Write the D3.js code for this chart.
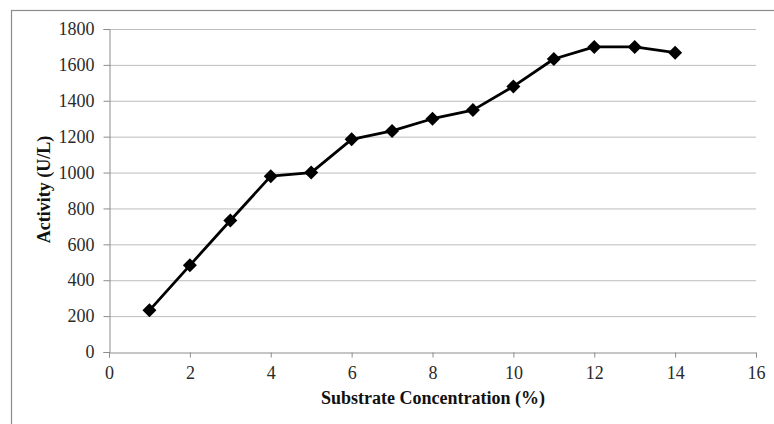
<!DOCTYPE html>
<html>
<head>
<meta charset="utf-8">
<script src="https://cdn.jsdelivr.net/npm/d3@7"></script>
<style>
  body { margin: 0; background: #fff; }
  svg { display: block; }
  .tick text { font-size: 18px; fill: #2a2a2a; }
  .axis-title { font-size: 18px; font-weight: bold; fill: #111; }
</style>
</head>
<body>
<script>
// substrate concentration (%) and measured activity (U/L)
const concentration = [1, 2, 3, 4, 5, 6, 7, 8, 9, 10, 11, 12, 13, 14];
const activity = [232, 483, 733, 980, 1000, 1185, 1232, 1300, 1348, 1480, 1633, 1700, 1700, 1668];
const xTicks = [0, 2, 4, 6, 8, 10, 12, 14, 16];
const yTicks = [0, 200, 400, 600, 800, 1000, 1200, 1400, 1600, 1800];

const width = 774, height = 424;
const margin = {top: 29, right: 18, bottom: 72, left: 109};
const serif = "'Liberation Serif', 'Times New Roman', Times, serif";

const svg = d3.select(document.body).append('svg')
  .attr('width', width)
  .attr('height', height)
  .attr('font-family', serif);

// chart border
svg.append('rect')
  .attr('x', 11.5).attr('y', 10.5)
  .attr('width', width).attr('height', height)
  .attr('fill', 'none')
  .attr('stroke', '#8c8c8c')
  .attr('stroke-width', 1.2);

const x = d3.scaleLinear().domain([0, 16]).range([margin.left, width - margin.right]);
const y = d3.scaleLinear().domain([0, 1800]).range([height - margin.bottom, margin.top]);

// gridlines
svg.append('g')
  .selectAll('line')
  .data(yTicks.slice(1))
  .enter().append('line')
  .attr('x1', x(0)).attr('x2', x(16))
  .attr('y1', d => y(d) + 0.5).attr('y2', d => y(d) + 0.5)
  .attr('stroke', '#bdbdbd')
  .attr('stroke-width', 1);

const yAxis = svg.append('g')
  .attr('transform', `translate(${x(0) + 0.5},0)`)
  .call(d3.axisLeft(y).tickValues(yTicks).tickSize(6).tickPadding(9).tickFormat(d3.format('d')));

const xAxis = svg.append('g')
  .attr('transform', `translate(0,${y(0) + 0.5})`)
  .call(d3.axisBottom(x).tickValues(xTicks).tickSize(5).tickPadding(9));

[yAxis, xAxis].forEach(a => {
  a.attr('font-family', serif).attr('font-size', null);
  a.select('.domain').attr('stroke', '#8c8c8c');
  a.selectAll('.tick line').attr('stroke', '#8c8c8c');
  a.selectAll('.tick text').attr('font-family', serif);
});

// line
const pts = concentration.map((c, i) => [c, activity[i]]);
svg.append('path')
  .datum(pts)
  .attr('fill', 'none')
  .attr('stroke', '#000')
  .attr('stroke-width', 2.8)
  .attr('stroke-linejoin', 'round')
  .attr('d', d3.line().x(d => x(d[0])).y(d => y(d[1])));

// diamond markers
svg.append('g')
  .selectAll('path')
  .data(pts)
  .enter().append('path')
  .attr('transform', d => `translate(${x(d[0])},${y(d[1])})`)
  .attr('d', 'M0,-7L7,0L0,7L-7,0Z')
  .attr('fill', '#000');

// axis titles
svg.append('text')
  .attr('class', 'axis-title')
  .attr('font-family', serif)
  .attr('text-anchor', 'middle')
  .attr('transform', `translate(50,${(y(0) + y(1800)) / 2 - 1}) rotate(-90)`)
  .text('Activity (U/L)');

svg.append('text')
  .attr('class', 'axis-title')
  .attr('font-family', serif)
  .attr('text-anchor', 'middle')
  .attr('x', 433)
  .attr('y', 404)
  .text('Substrate Concentration (%)');
</script>
</body>
</html>
